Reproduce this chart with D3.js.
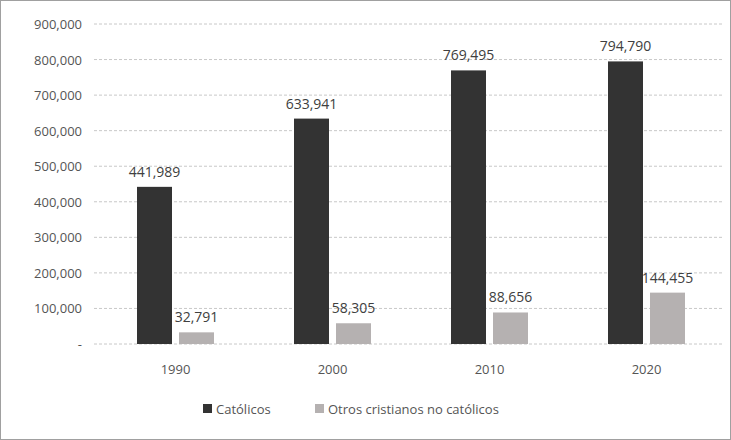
<!DOCTYPE html>
<html><head><meta charset="utf-8">
<script src="https://cdn.jsdelivr.net/npm/d3@7"></script>
<style>body{margin:0;background:#fff}text{font-family:"Open Sans",sans-serif}</style>
</head><body><svg id="c" width="731" height="440"></svg>
<script>
const years = ["1990","2000","2010","2020"];
const catolicos = [441989,633941,769495,794790];
const otros = [32791,58305,88656,144455];
const seriesNames = ["Católicos","Otros cristianos no católicos"];
const tickValues = [0,100000,200000,300000,400000,500000,600000,700000,800000,900000];
const colors = ["#333333","#b5b1b1"];

const svg = d3.select("#c");
svg.append("rect").attr("x",0.5).attr("y",0.5).attr("width",730).attr("height",439).attr("fill","#fff").attr("stroke","#a0a0a0");
const x = d3.scaleBand().domain(years).range([97,725]);
const y = d3.scaleLinear().domain([0,900000]).range([344,24]);
const fmt = d3.format(",");
const g = svg.append("g");
tickValues.forEach(t=>{
  g.append("line").attr("x1",94).attr("x2",722).attr("y1",y(t)).attr("y2",y(t))
   .attr("stroke","#c8c8c8").attr("stroke-dasharray","3,2");
  g.append("text").attr("x",82).attr("y",y(t)+5).attr("text-anchor","end").attr("font-size",13).attr("fill","#555")
   .text(t===0?"-":fmt(t));
});
const bw = 35, gap = 9;
[catolicos,otros].forEach((arr,si)=>{
  arr.forEach((v,i)=>{
    const cx = x(years[i]) + x.bandwidth()/2;
    const bx = si===0 ? cx - gap/2 - bw + 1 : cx + gap/2 - 1;
    g.append("rect").attr("x",bx).attr("y",y(v)).attr("width",bw).attr("height",y(0)-y(v)).attr("fill",colors[si]);
    g.append("text").attr("x",bx+bw/2).attr("y",y(v)-10).attr("text-anchor","middle").attr("font-size",14).attr("fill","#404040").text(fmt(v));
  });
});
years.forEach(yr=>{
  g.append("text").attr("x",x(yr)+x.bandwidth()/2).attr("y",374).attr("text-anchor","middle").attr("font-size",13).attr("fill","#555").text(yr);
});
const lg = svg.append("g");
const lx = [203,315];
seriesNames.forEach((n,i)=>{
  lg.append("rect").attr("x",lx[i]).attr("y",404).attr("width",9).attr("height",9).attr("fill",colors[i]);
  lg.append("text").attr("x",lx[i]+13).attr("y",414).attr("font-size",13).attr("fill","#555").text(n);
});
</script></body></html>
